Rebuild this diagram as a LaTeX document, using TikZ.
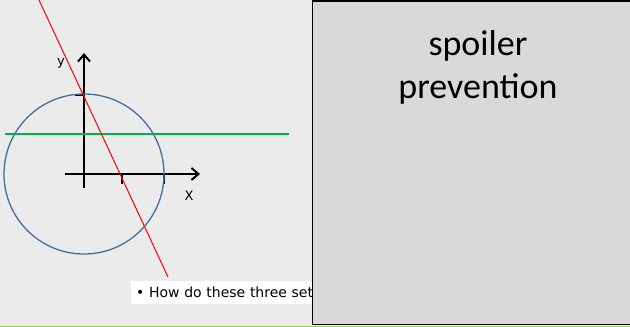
\documentclass[tikz,border=0pt]{standalone}
\usepackage{fontspec}
\setmainfont{DejaVu Sans}
\newfontfamily\slidefont{Carlito}
\usepackage{tikz}
\usetikzlibrary{arrows.meta,positioning}

\begin{document}
\begin{tikzpicture}[
  x=1pt,y=-1pt,
  axis/.style={line width=2pt,-{Straight Barb[length=7pt,width=12pt]}},
  tick/.style={line width=2pt},
  lbl/.style={font=\fontsize{13}{15}\selectfont,inner sep=0pt},
  bigtext/.style={font=\slidefont\fontsize{36}{43}\selectfont,inner sep=0pt,anchor=base}
]
\useasboundingbox (0,0) rectangle (630,327);

% ---- slide background ----
\fill[black!8] (0,0) rectangle (630,327);

% ---- axes ----
\coordinate (o)  at (84,174);
\coordinate (xs) at (65,174);
\coordinate (xe) at (200,174);
\coordinate (ys) at (84,188);
\coordinate (ye) at (84,53);
\draw[axis] (xs) -- (xe);
\draw[axis] (ys) -- (ye);

% ticks
\draw[tick] (75,95)   -- (84,95);
\draw[tick,gray!60] (75,134) -- (84,134);
\draw[tick] (122,174) -- (122,184);
\draw[tick] (164,174) -- (164,184);

% axis labels
\node[lbl] (ylbl) at (61,63)  {y};
\node[lbl] (xlbl) at (189,196) {X};

% ---- circle and lines ----
\draw[color={rgb,255:red,65;green,113;blue,156},line width=1.3pt] (o) circle (80pt);
\draw[color={rgb,255:red,0;green,176;blue,80},line width=2pt] (5,134) -- (289,134);
\draw[red,line width=1pt] (39,0) -- (168,277);

% ---- bullet text ----
\node[fill=white,anchor=west,minimum height=23pt,inner xsep=5pt,
      text width=200pt,align=left,
      font=\fontsize{14}{16}\selectfont] (quest) at (131,292.5)
  {\textbullet\ How do these three set};

% ---- spoiler box ----
\draw[fill=black!15,line width=1.5pt] (312.7,1) rectangle (640,324.5);
\node[bigtext] (spoil) at (478,55) {spoiler};
\node[bigtext] (prev)  at (478,98) {prevention};

% bottom rule
\draw[color={rgb,255:red,146;green,208;blue,80},line width=2pt] (0,326.5) -- (630,326.5);
\end{tikzpicture}
\end{document}
